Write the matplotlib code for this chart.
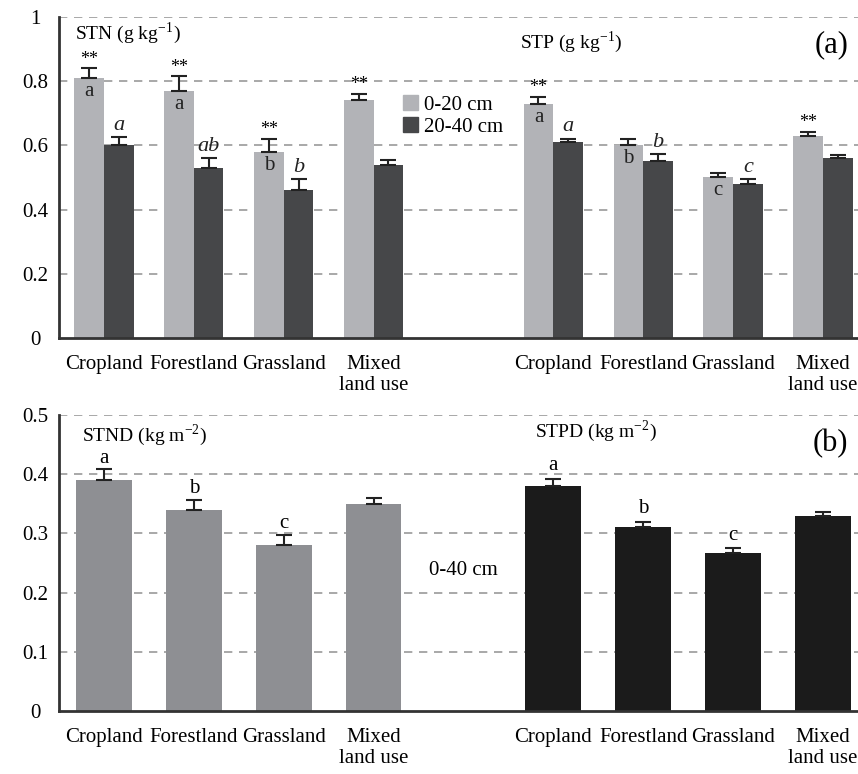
import matplotlib
matplotlib.use("Agg")
import matplotlib.pyplot as plt
import numpy as np
from matplotlib.patches import Patch

plt.rcParams['font.family'] = ['Liberation Serif', 'DejaVu Serif']
plt.rcParams['mathtext.fontset'] = 'stix'

categories = ["Cropland", "Forestland", "Grassland", "Mixed\nland use"]

# Panel (a): STN and STP, two depths
stn_0_20 = [0.81, 0.77, 0.58, 0.74]
stn_0_20_err = [0.03, 0.045, 0.04, 0.02]
stn_20_40 = [0.60, 0.53, 0.46, 0.54]
stn_20_40_err = [0.025, 0.03, 0.035, 0.015]
stp_0_20 = [0.73, 0.60, 0.50, 0.63]
stp_0_20_err = [0.022, 0.02, 0.015, 0.013]
stp_20_40 = [0.61, 0.55, 0.48, 0.56]
stp_20_40_err = [0.01, 0.022, 0.015, 0.01]

stn_stars = ["**", "**", "**", "**"]
stn_letters_0_20 = ["a", "a", "b", ""]
stn_letters_20_40 = ["a", "ab", "b", ""]
stp_stars = ["**", "", "", "**"]
stp_letters_0_20 = ["a", "b", "c", ""]
stp_letters_20_40 = ["a", "b", "c", ""]

# Panel (b): densities 0-40 cm
stnd = [0.39, 0.34, 0.28, 0.35]
stnd_err = [0.018, 0.016, 0.018, 0.01]
stpd = [0.38, 0.31, 0.267, 0.33]
stpd_err = [0.012, 0.01, 0.008, 0.006]
stnd_letters = ["a", "b", "c", ""]
stpd_letters = ["a", "b", "c", ""]

c_light = "#b2b3b7"
c_dark = "#464749"
c_gray = "#8e8f93"
c_black = "#1b1b1b"
grid_c = "#999999"

fig = plt.figure(figsize=(8.58, 7.74), dpi=100)
ax1 = fig.add_axes([59/858, 1-338/774, (858-59)/858, 321/774])
ax2 = fig.add_axes([59/858, 1-711/774, (858-59)/858, 296/774])

pos_n = np.arange(4)
pos_p = np.arange(4) + 5
positions = list(pos_n) + list(pos_p)
w = 0.33

def style(ax, ymax, step, labels):
    ax.set_xlim(-0.5, 8.39)
    ax.set_ylim(0, ymax)
    ticks = np.round(np.arange(0, ymax + 1e-9, step), 2)
    ax.set_yticks(ticks)
    ax.set_yticklabels(labels, fontsize=15, ha='center')
    for t in ticks[1:]:
        ax.axhline(t, color=grid_c, ls=(0, (5, 4)), lw=1.2, zorder=0)
    ax.spines['top'].set_visible(False)
    ax.spines['right'].set_visible(False)
    ax.spines['left'].set_linewidth(2)
    ax.spines['bottom'].set_linewidth(2)
    ax.spines['bottom'].set_color("#333333")
    ax.spines['left'].set_color("#333333")
    ax.tick_params(axis='y', length=0, pad=17)
    ax.tick_params(axis='x', length=0, pad=12)
    ax.set_xticks(positions)
    ax.set_xticklabels(categories * 2, fontsize=15, linespacing=1.2)

ekw = dict(ecolor="#222222", elinewidth=1.5, capsize=6, capthick=1.5)

# Panel (a)
for pos, v1, e1, v2, e2, stars, l1, l2 in [
    (pos_n, stn_0_20, stn_0_20_err, stn_20_40, stn_20_40_err, stn_stars, stn_letters_0_20, stn_letters_20_40),
    (pos_p, stp_0_20, stp_0_20_err, stp_20_40, stp_20_40_err, stp_stars, stp_letters_0_20, stp_letters_20_40),
]:
    ax1.bar(pos - w/2, v1, w, color=c_light, zorder=2,
            yerr=[np.zeros(4), e1], error_kw=ekw)
    ax1.bar(pos + w/2, v2, w, color=c_dark, zorder=2,
            yerr=[np.zeros(4), e2], error_kw=ekw)
    for i in range(4):
        if stars[i]:
            ax1.text(pos[i] - w/2, v1[i] + e1[i] + 0.002, stars[i], ha='center', va='bottom', fontsize=13)
        if l1[i]:
            ax1.text(pos[i] - w/2, v1[i] - 0.012, l1[i], ha='center', va='top', fontsize=15, color="#222222")
        if l2[i]:
            ax1.text(pos[i] + w/2, v2[i] + e2[i] + 0.008, l2[i], ha='center', va='bottom', fontsize=16,
                     style='italic', color="#222222")

style(ax1, 1.0, 0.2, ["0", "0.2", "0.4", "0.6", "0.8", "1"])
ax1.text(0.02, 0.95, "STN (g kg$^{\\mathregular{-1}}$)", transform=ax1.transAxes, fontsize=14, va='center', ha='left')
ax1.text(0.577, 0.922, "STP (g kg$^{\\mathregular{-1}}$)", transform=ax1.transAxes, fontsize=14, va='center', ha='left')
ax1.text(0.988, 0.913, "(a)", transform=ax1.transAxes, fontsize=22, va='center', ha='right')

handles = [Patch(color=c_light, label="0-20 cm"), Patch(color=c_dark, label="20-40 cm")]
ax1.legend(handles=handles, loc='upper left', bbox_to_anchor=(0.415, 0.795), frameon=False,
           fontsize=15, handlelength=0.7, handleheight=0.7, handletextpad=0.3, labelspacing=0.1,
           borderpad=0.1)

# Panel (b)
ax2.bar(pos_n, stnd, 0.62, color=c_gray, zorder=2, yerr=[np.zeros(4), stnd_err], error_kw=ekw)
ax2.bar(pos_p, stpd, 0.62, color=c_black, zorder=2, yerr=[np.zeros(4), stpd_err], error_kw=ekw)
for i in range(4):
    if stnd_letters[i]:
        ax2.text(pos_n[i], stnd[i] + stnd_err[i] + 0.003, stnd_letters[i], ha='center', va='bottom', fontsize=15)
    if stpd_letters[i]:
        ax2.text(pos_p[i], stpd[i] + stpd_err[i] + 0.006, stpd_letters[i], ha='center', va='bottom', fontsize=15)

style(ax2, 0.5, 0.1, ["0", "0.1", "0.2", "0.3", "0.4", "0.5"])
ax2.text(0.029, 0.93, "STND (kg m$^{\\mathregular{-2}}$)", transform=ax2.transAxes, fontsize=14, va='center', ha='left')
ax2.text(0.596, 0.945, "STPD (kg m$^{\\mathregular{-2}}$)", transform=ax2.transAxes, fontsize=14, va='center', ha='left')
ax2.text(0.988, 0.905, "(b)", transform=ax2.transAxes, fontsize=22, va='center', ha='right')
ax2.text(4.0, 0.238, "0-40 cm", ha='center', va='center', fontsize=15)

fig.savefig("out.png", dpi=100)
